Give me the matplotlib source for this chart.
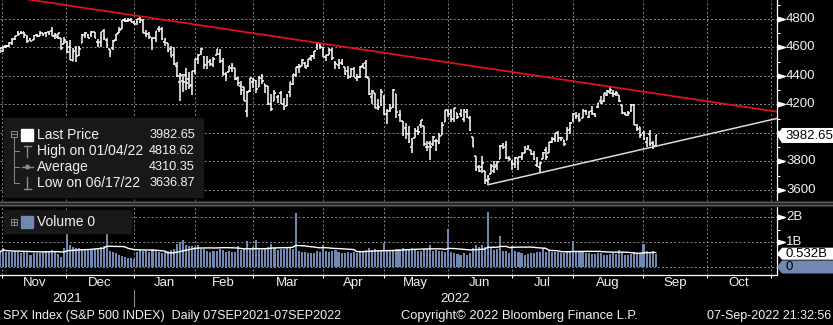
import matplotlib
matplotlib.use('Agg')
import matplotlib.pyplot as plt
import matplotlib.transforms as mtransforms
from matplotlib.collections import LineCollection
from matplotlib.patches import Rectangle, Polygon, Circle
from matplotlib.lines import Line2D
from matplotlib.path import Path
import numpy as np
import pandas as pd

plt.rcParams['font.family'] = ['Liberation Sans', 'DejaVu Sans']

W, H = 833, 325

# trading calendar (NYSE holidays in range)
HOLIDAYS = ['2021-11-25', '2021-12-24', '2022-01-17', '2022-02-21', '2022-04-15',
            '2022-05-30', '2022-06-20', '2022-07-04', '2022-09-05']
START, END = '2021-10-28', '2022-11-04'

# SPX daily OHLC, Oct 28 2021 .. Sep 7 2022
opens = [
    4562, 4572,
    4610, 4613, 4630, 4662, 4700, 4701, 4707, 4670, 4659, 4655, 4690, 4679, 4701, 4700, 4708, 4713, 4679, 4675, 4664, 4628, 4640,
    4603, 4505, 4590, 4549, 4632, 4690, 4686, 4688, 4711, 4642, 4637, 4719, 4652, 4587, 4594, 4651, 4703, 4733, 4795, 4788, 4795, 4776,
    4778, 4804, 4788, 4693, 4698, 4656, 4669, 4729, 4733, 4637, 4632, 4588, 4548, 4472, 4356, 4366, 4408, 4381, 4337, 4432,
    4519, 4567, 4535, 4482, 4505, 4480, 4547, 4553, 4506, 4412, 4430, 4456, 4456, 4385, 4332, 4324, 4155, 4298, 4355,
    4363, 4322, 4401, 4342, 4327, 4202, 4224, 4253, 4280, 4202, 4188, 4289, 4345, 4407, 4462, 4469, 4494, 4469, 4523, 4541, 4603, 4624, 4599,
    4541, 4548, 4573, 4494, 4475, 4494, 4462, 4437, 4395, 4449, 4385, 4390, 4473, 4490, 4385, 4256, 4279, 4187, 4222, 4253,
    4131, 4160, 4181, 4271, 4128, 4081, 4035, 3990, 3904, 3963, 4013, 4053, 4051, 3899, 3927, 3920, 3942, 3929, 3984, 4078, 4151,
    4149, 4096, 4138, 4135, 4097, 4148, 4102, 3974, 3838, 3764, 3764, 3733, 3665, 3715, 3733, 3774, 3821, 3920, 3913, 3826, 3786,
    3782, 3792, 3831, 3859, 3888, 3880, 3851, 3773, 3763, 3819, 3883, 3860, 3935, 3955, 4000, 3965, 3954, 3951, 4026, 4088,
    4113, 4105, 4108, 4155, 4115, 4155, 4133, 4181, 4227, 4225, 4269, 4290, 4281, 4274, 4267, 4195, 4134, 4126, 4154, 4199, 4034, 4041, 4000,
    3937, 3995, 3931, 3909,
]
highs = [
    4597, 4608,
    4620, 4636, 4664, 4683, 4718, 4714, 4709, 4685, 4664, 4688, 4698, 4714, 4701, 4708, 4718, 4744, 4700, 4702, 4664, 4673, 4646,
    4652, 4595, 4608, 4612, 4695, 4706, 4697, 4713, 4711, 4660, 4710, 4731, 4667, 4587, 4651, 4698, 4741, 4791, 4808, 4805, 4808, 4787,
    4797, 4819, 4798, 4726, 4708, 4673, 4714, 4749, 4745, 4666, 4632, 4612, 4602, 4495, 4418, 4411, 4454, 4429, 4432, 4517,
    4551, 4595, 4542, 4540, 4521, 4531, 4590, 4589, 4527, 4427, 4472, 4490, 4456, 4395, 4363, 4325, 4295, 4385, 4389,
    4375, 4401, 4416, 4343, 4327, 4276, 4299, 4268, 4292, 4247, 4272, 4358, 4412, 4465, 4481, 4522, 4501, 4521, 4546, 4576, 4637, 4628, 4604,
    4549, 4593, 4594, 4503, 4521, 4521, 4464, 4471, 4453, 4460, 4411, 4471, 4489, 4513, 4386, 4299, 4279, 4240, 4308, 4269,
    4169, 4200, 4308, 4271, 4158, 4082, 4069, 4050, 3965, 4038, 4047, 4090, 4051, 3946, 3944, 3981, 3955, 3999, 4076, 4159, 4169,
    4166, 4177, 4143, 4169, 4165, 4165, 4119, 3974, 3838, 3778, 3837, 3733, 3708, 3779, 3801, 3803, 3914, 3928, 3946, 3836, 3808,
    3829, 3832, 3865, 3906, 3919, 3880, 3874, 3829, 3796, 3864, 3903, 3940, 3975, 3999, 4013, 3975, 3954, 4040, 4078, 4140,
    4144, 4141, 4167, 4162, 4151, 4187, 4138, 4211, 4258, 4280, 4301, 4325, 4302, 4293, 4267, 4196, 4149, 4156, 4200, 4204, 4063, 4044, 4015,
    3971, 4019, 3942, 3987,
]
lows = [
    4562, 4567,
    4595, 4604, 4621, 4655, 4681, 4694, 4670, 4630, 4648, 4651, 4673, 4679, 4684, 4672, 4690, 4680, 4658, 4660, 4585, 4626, 4560,
    4511, 4504, 4495, 4541, 4632, 4667, 4664, 4671, 4666, 4606, 4606, 4651, 4599, 4531, 4583, 4645, 4703, 4733, 4780, 4779, 4776, 4766,
    4759, 4774, 4699, 4671, 4663, 4582, 4638, 4708, 4652, 4614, 4568, 4531, 4474, 4396, 4223, 4288, 4305, 4310, 4265, 4415,
    4483, 4545, 4451, 4452, 4471, 4466, 4547, 4494, 4402, 4365, 4430, 4430, 4374, 4327, 4268, 4222, 4115, 4287, 4318,
    4279, 4322, 4345, 4284, 4199, 4157, 4224, 4209, 4200, 4161, 4187, 4256, 4335, 4390, 4424, 4469, 4455, 4465, 4502, 4518, 4582, 4589, 4531,
    4507, 4547, 4515, 4451, 4450, 4477, 4408, 4382, 4393, 4393, 4367, 4388, 4455, 4385, 4267, 4200, 4175, 4162, 4188, 4129,
    4063, 4147, 4177, 4106, 4077, 3976, 3958, 3928, 3859, 3963, 3984, 4034, 3911, 3877, 3810, 3910, 3875, 3926, 3984, 4077, 4110,
    4074, 4074, 4098, 4109, 4080, 4104, 4017, 3900, 3735, 3724, 3722, 3640, 3637, 3715, 3717, 3743, 3821, 3889, 3820, 3800, 3738,
    3753, 3743, 3810, 3859, 3878, 3847, 3812, 3759, 3722, 3817, 3814, 3860, 3930, 3940, 3938, 3944, 3911, 3951, 3993, 4079,
    4097, 4079, 4108, 4128, 4107, 4128, 4112, 4178, 4201, 4220, 4260, 4277, 4253, 4262, 4218, 4130, 4124, 4120, 4147, 4057, 4017, 3965, 3954,
    3903, 3907, 3887, 3907,
]
closes = [
    4596, 4605,
    4614, 4631, 4661, 4680, 4698, 4702, 4685, 4647, 4649, 4683, 4683, 4701, 4689, 4705, 4698, 4683, 4691, 4701, 4595, 4655, 4567,
    4513, 4577, 4538, 4592, 4687, 4701, 4667, 4712, 4669, 4634, 4710, 4669, 4621, 4568, 4649, 4697, 4726, 4791, 4786, 4793, 4779, 4766,
    4797, 4794, 4701, 4696, 4677, 4670, 4713, 4726, 4659, 4663, 4577, 4533, 4483, 4398, 4410, 4356, 4350, 4327, 4432, 4516,
    4547, 4589, 4477, 4501, 4484, 4522, 4587, 4504, 4419, 4402, 4471, 4475, 4380, 4349, 4305, 4226, 4289, 4385, 4374,
    4306, 4387, 4363, 4329, 4201, 4171, 4278, 4260, 4204, 4173, 4262, 4358, 4412, 4463, 4461, 4512, 4456, 4520, 4543, 4576, 4632, 4602, 4530,
    4546, 4583, 4525, 4481, 4500, 4488, 4413, 4397, 4447, 4393, 4392, 4462, 4459, 4394, 4272, 4296, 4175, 4184, 4288, 4132,
    4155, 4175, 4300, 4147, 4123, 3991, 4001, 3935, 3930, 4024, 4008, 4089, 3924, 3901, 3901, 3974, 3941, 3979, 4058, 4158, 4132,
    4101, 4177, 4109, 4121, 4161, 4116, 4018, 3901, 3750, 3735, 3790, 3667, 3675, 3765, 3760, 3796, 3912, 3900, 3822, 3819, 3785,
    3825, 3831, 3845, 3903, 3899, 3854, 3819, 3802, 3790, 3863, 3831, 3937, 3960, 3999, 3962, 3967, 3921, 4024, 4072, 4130,
    4119, 4091, 4155, 4152, 4145, 4140, 4122, 4210, 4207, 4280, 4297, 4305, 4274, 4284, 4228, 4138, 4129, 4141, 4199, 4058, 4031, 3986, 3955,
    3967, 3924, 3908, 3982.65,
]
# daily volume, billions
volume = [
    0.60, 0.77,
    0.60, 0.62, 0.61, 0.63, 0.62, 0.58, 0.60, 0.64, 0.50, 0.55, 0.57, 0.58, 0.60, 0.64, 0.66, 0.68, 0.65, 0.52, 0.40, 0.78, 1.48,
    0.90, 0.80, 0.78, 0.76, 0.72, 0.70, 0.68, 0.72, 0.74, 0.78, 0.82, 0.84, 2.16, 0.66, 0.62, 0.55, 0.50, 0.44, 0.40, 0.36, 0.38, 0.34,
    0.62, 0.70, 0.66, 0.64, 0.60, 0.72, 0.64, 0.60, 0.58, 0.62, 0.65, 0.70, 0.72, 0.92, 1.02, 1.08, 0.90, 0.86, 0.84, 0.80,
    0.90, 0.74, 0.72, 0.66, 0.62, 0.64, 0.66, 0.72, 0.70, 0.62, 0.64, 0.60, 0.62, 0.84, 0.70, 0.72, 1.04, 0.74, 0.80,
    1.10, 0.78, 0.72, 0.74, 0.82, 0.93, 0.78, 0.70, 0.72, 0.74, 0.76, 0.78, 0.72, 2.16, 0.66, 0.62, 0.60, 0.56, 0.55, 0.56, 0.64, 0.60, 0.88,
    0.66, 0.62, 0.64, 0.68, 0.62, 0.56, 0.56, 0.60, 0.58, 0.60, 0.55, 0.60, 0.62, 0.68, 0.78, 0.70, 0.72, 0.68, 0.66, 0.98,
    0.68, 0.66, 0.70, 0.74, 0.72, 0.78, 0.74, 0.72, 0.76, 0.70, 0.64, 0.66, 0.72, 0.74, 0.88, 0.66, 0.68, 0.66, 0.64, 0.60, 1.52,
    0.61, 0.57, 0.53, 0.50, 0.57, 0.50, 0.56, 0.75, 0.88, 0.80, 0.90, 0.82, 2.20, 0.81, 0.70, 0.74, 1.24, 0.64, 0.63, 0.56, 0.86,
    0.64, 0.60, 0.55, 0.50, 0.54, 0.56, 0.58, 0.60, 0.62, 0.77, 0.60, 0.64, 0.62, 0.60, 0.62, 0.55, 0.56, 0.64, 0.66, 1.04,
    0.60, 0.62, 0.60, 0.56, 0.55, 0.52, 0.54, 0.58, 0.57, 0.50, 0.48, 0.54, 0.56, 0.52, 0.68, 0.56, 0.50, 0.48, 0.52, 0.62, 0.54, 0.58, 0.92,
    0.66, 0.62, 0.66, 0.532,
]

legend_names = ['Last Price', 'High on 01/04/22', 'Average', 'Low on 06/17/22']
legend_values = ['3982.65', '4818.62', '4310.35', '3636.87']
price_ticks = [3600, 3800, 4000, 4200, 4400, 4600, 4800]
vol_ticks = [1, 2]
vol_tick_labels = ['1B', '2B']
red_anchor_dates = ['2022-01-04', '2022-08-16']   # highs
white_anchor_dates = ['2022-06-17', '2022-09-07']  # lows

footer_left = 'SPX Index (S&P 500 INDEX)  Daily 07SEP2021-07SEP2022'
footer_mid = 'Copyright\u00a9 2022 Bloomberg Finance L.P.'
footer_right = '07-Sep-2022 21:32:56'

cal = pd.bdate_range(START, END, freq='C', holidays=HOLIDAYS)
n = len(closes)
x = np.arange(n)
XMAX = 254.6

GRID = dict(color='#8c8c8c', lw=0.7, ls=(0, (2, 2.2)), zorder=0)
VOL_COLOR = '#7189b0'
TXT = '#f2f2f2'

fig = plt.figure(figsize=(W / 100, H / 100), dpi=100, facecolor='black')
pix = mtransforms.Affine2D().scale(1 / W, -1 / H).translate(0, 1) + fig.transFigure

ax_p = fig.add_axes([0, 1 - 201 / H, 776.5 / W, 201 / H], facecolor='black')
ax_v = fig.add_axes([0, 1 - 274.5 / H, 776.5 / W, 68.5 / H], facecolor='black')

# month boundaries
firsts = [i for i in range(1, len(cal)) if cal[i].month != cal[i - 1].month]
bounds = [i - 1.2 for i in firsts]

for ax in (ax_p, ax_v):
    ax.set_xlim(0, XMAX)
    for b in bounds:
        ax.axvline(b, **GRID)
    for s in ('top', 'left'):
        ax.spines[s].set_visible(False)
    ax.spines['right'].set_color('white')
    ax.spines['right'].set_linewidth(0.9)
    ax.yaxis.set_ticks_position('right')
    ax.tick_params(axis='y', length=2.5, width=0.8, color='white',
                   labelright=False, labelleft=False)

# ---- price panel
ax_p.set_ylim(3522.8, 4933.3)
ax_p.spines['bottom'].set_visible(False)
ax_p.set_xticks([])
ax_p.set_yticks(np.arange(3600, 5000, 100))
for v in price_ticks:
    ax_p.axhline(v, **GRID)

segs = []
for i in range(n):
    segs.append([(i, lows[i]), (i, highs[i])])
    segs.append([(i - 0.55, opens[i]), (i, opens[i])])
    segs.append([(i, closes[i]), (i + 0.55, closes[i])])
ax_p.add_collection(LineCollection(segs, colors='white', linewidths=1.1, zorder=3))

idx = {d.strftime('%Y-%m-%d'): k for k, d in enumerate(cal)}
r0, r1 = idx[red_anchor_dates[0]], idx[red_anchor_dates[1]]
slope = (highs[r1] - highs[r0]) / (r1 - r0)
ax_p.plot([0, XMAX], [highs[r0] - slope * r0, highs[r0] + slope * (XMAX - r0)],
          color='#e0141c', lw=1.25, zorder=4)
w0, w1 = idx[white_anchor_dates[0]], idx[white_anchor_dates[1]]
slope = (lows[w1] - lows[w0]) / (w1 - w0)
ax_p.plot([w0, XMAX], [lows[w0], lows[w0] + slope * (XMAX - w0)],
          color='#dcdcdc', lw=1.1, zorder=4)

tri = Path([(-1, -0.6), (1, 0), (-1, 0.6), (-1, -0.6)],
           [Path.MOVETO, Path.LINETO, Path.LINETO, Path.CLOSEPOLY])
bl_p = mtransforms.blended_transform_factory(ax_p.transAxes, ax_p.transData)
ax_p.plot([780.5 / 776.5] * len(price_ticks), price_ticks, ls='none', marker=tri,
          ms=5.5, color='white', transform=bl_p, clip_on=False)
last_px = ax_p.transData.transform((0, closes[-1]))[1]
for v in price_ticks:
    # the label hidden under the last-price tag is not shown
    if abs(ax_p.transData.transform((0, v))[1] - last_px) < 12:
        continue
    ax_p.text(786 / 776.5, v, str(v), transform=bl_p, ha='left', va='center',
              fontsize=9.5, color=TXT)

# ---- volume panel
ax_v.set_ylim(-0.3, 2.44)
ax_v.spines['bottom'].set_color('white')
ax_v.spines['bottom'].set_linewidth(0.9)
ax_v.set_yticks([0.5, 1, 1.5, 2])
for v in [0] + vol_ticks:
    ax_v.axhline(v, **GRID)
ax_v.bar(x, volume, width=0.68, color=VOL_COLOR, zorder=2)
vol_ma = pd.Series(volume).rolling(20, min_periods=1).mean()
ax_v.plot(x, vol_ma, color='white', lw=1.0, zorder=3)
ax_v.set_xticks(bounds)
ax_v.tick_params(axis='x', length=2.5, width=0.8, color='white', labelbottom=False)

bl_v = mtransforms.blended_transform_factory(ax_v.transAxes, ax_v.transData)
ax_v.plot([780.5 / 776.5] * len(vol_ticks), vol_ticks, ls='none', marker=tri,
          ms=5.5, color='white', transform=bl_v, clip_on=False)
for v, lab in zip(vol_ticks, vol_tick_labels):
    ax_v.text(786 / 776.5, v, lab, transform=bl_v, ha='left', va='center',
              fontsize=9.5, color=TXT)

# month / year labels
bl_x = mtransforms.blended_transform_factory(ax_v.transData, fig.transFigure)
for k in range(len(bounds) - 1):
    mid = (bounds[k] + bounds[k + 1]) / 2
    if mid > XMAX:
        break
    ax_v.text(mid, 1 - 283 / H, cal[firsts[k]].strftime('%b'), transform=bl_x,
              ha='center', va='center', fontsize=9.5, color=TXT, clip_on=False)
jan = [b for b, f in zip(bounds, firsts) if cal[f].month == 1][0]
ax_v.text(jan / 2, 1 - 298.5 / H, '2021', transform=bl_x, ha='center', va='center',
          fontsize=9.5, color=TXT)
ax_v.text((jan + XMAX) / 2, 1 - 298.5 / H, '2022', transform=bl_x, ha='center',
          va='center', fontsize=9.5, color=TXT)
fig.add_artist(Line2D([jan, jan], [1 - 290 / H, 1 - 306 / H], transform=bl_x,
                      color='#8c8c8c', lw=0.8))

# panel separator
fig.add_artist(Rectangle((0, 200.5), W, 5, transform=pix, color='#262626', zorder=1))
for yy in (201.5, 204.5):
    fig.add_artist(Line2D([0, W], [yy, yy], transform=pix, color='#5e5e5e', lw=0.8))

# last-value tags on right
def py_of(ax, v):
    return H - ax.transData.transform((0, v))[1]

def tag(yc, text, face, half=7.5):
    fig.add_artist(Polygon([(777, yc), (782, yc - half), (W, yc - half), (W, yc + half),
                            (782, yc + half)], closed=True, transform=pix,
                           facecolor=face, edgecolor='none', zorder=8))
    fig.text(785.5, yc + 0.5, text, transform=pix, ha='left', va='center',
             fontsize=9.5, color='black', zorder=9)

tag(py_of(ax_p, closes[-1]), f'{closes[-1]:.2f}', 'white')
tag(py_of(ax_v, volume[-1]), f'{volume[-1]:.3f}B', 'white', half=6)
tag(py_of(ax_v, 0), '0', VOL_COLOR, half=6.5)

# legend boxes
ICON = '#8a8a8a'
fig.add_artist(Rectangle((4, 118), 199, 79, transform=pix, color='#181818', zorder=5))
fig.add_artist(Rectangle((11.5, 130.5), 6, 6, transform=pix, fill=False,
                         edgecolor=ICON, lw=0.7, zorder=6))
fig.add_artist(Line2D([12.5, 16.5], [133.5, 133.5], transform=pix, color=ICON, lw=0.7, zorder=6))
fig.add_artist(Line2D([14.5, 14.5], [136.5, 183], transform=pix, color=ICON, lw=0.7, zorder=6))
row_y = [135, 151, 167, 183]
for yy in row_y[1:]:
    fig.add_artist(Line2D([14.5, 19], [yy, yy], transform=pix, color=ICON, lw=0.7, zorder=6))
fig.add_artist(Rectangle((21, 129), 12, 12, transform=pix, color='white', zorder=6))
fig.add_artist(Line2D([24, 31], [145.5, 145.5], transform=pix, color=ICON, lw=1, zorder=6))
fig.add_artist(Line2D([27.5, 27.5], [145.5, 157], transform=pix, color=ICON, lw=1, zorder=6))
fig.add_artist(Line2D([22, 33], [167, 167], transform=pix, color=ICON, lw=1, zorder=6))
fig.add_artist(Circle((27.5, 167), 1.8, transform=pix, color=ICON, zorder=6))
fig.add_artist(Line2D([27.5, 27.5], [177, 188.5], transform=pix, color=ICON, lw=1, zorder=6))
fig.add_artist(Line2D([24, 31], [188.5, 188.5], transform=pix, color=ICON, lw=1, zorder=6))
for yy, name, val in zip(row_y, legend_names, legend_values):
    fig.text(37, yy, name, transform=pix, ha='left', va='center', fontsize=10,
             color=TXT, zorder=7)
    fig.text(195, yy, val, transform=pix, ha='right', va='center', fontsize=9.2,
             color=TXT, zorder=7)

fig.add_artist(Rectangle((4, 210), 127, 23, transform=pix, color='#181818', zorder=5))
fig.add_artist(Rectangle((11.5, 218.5), 6, 6, transform=pix, fill=False,
                         edgecolor=ICON, lw=0.7, zorder=6))
fig.add_artist(Line2D([12.5, 16.5], [221.5, 221.5], transform=pix, color=ICON, lw=0.7, zorder=6))
fig.add_artist(Line2D([14.5, 14.5], [219.5, 223.5], transform=pix, color=ICON, lw=0.7, zorder=6))
fig.add_artist(Rectangle((21, 216), 12, 12, transform=pix, color=VOL_COLOR, zorder=6))
fig.text(37, 222, 'Volume 0', transform=pix, ha='left', va='center', fontsize=10,
         color=TXT, zorder=7)

# footer
fig.text(3, 316.5, footer_left, transform=pix, ha='left', va='center', fontsize=9, color=TXT)
fig.text(401, 316.5, footer_mid, transform=pix, ha='left', va='center', fontsize=9.3, color=TXT)
fig.text(831, 316.5, footer_right, transform=pix, ha='right', va='center', fontsize=9, color=TXT)

fig.savefig('out.png', dpi=100, facecolor='black')
